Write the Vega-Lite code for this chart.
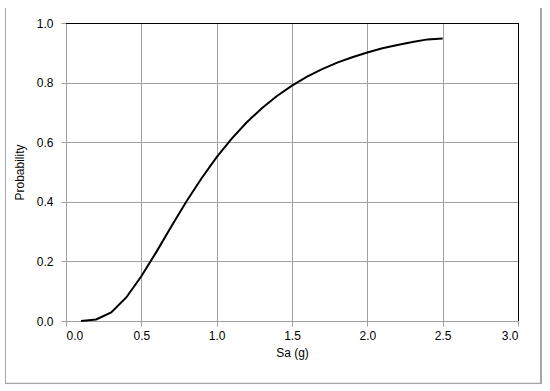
{
  "$schema": "https://vega.github.io/schema/vega-lite/v6.json",
  "width": 452,
  "height": 298,
  "autosize": {"type": "none"},
  "padding": {"left": 66, "top": 23, "right": 32, "bottom": 70},
  "background": "white",
  "config": {
    "view": {"stroke": null},
    "font": "Liberation Sans"
  },
  "data": {
    "values": [
      {"sa": 0.1, "p": 0.0001},
      {"sa": 0.2, "p": 0.005},
      {"sa": 0.3, "p": 0.029},
      {"sa": 0.4, "p": 0.079},
      {"sa": 0.5, "p": 0.150},
      {"sa": 0.6, "p": 0.232},
      {"sa": 0.7, "p": 0.318},
      {"sa": 0.8, "p": 0.402},
      {"sa": 0.9, "p": 0.479},
      {"sa": 1.0, "p": 0.550},
      {"sa": 1.1, "p": 0.612},
      {"sa": 1.2, "p": 0.667},
      {"sa": 1.3, "p": 0.714},
      {"sa": 1.4, "p": 0.755},
      {"sa": 1.5, "p": 0.790},
      {"sa": 1.6, "p": 0.820},
      {"sa": 1.7, "p": 0.845},
      {"sa": 1.8, "p": 0.867},
      {"sa": 1.9, "p": 0.885},
      {"sa": 2.0, "p": 0.901},
      {"sa": 2.1, "p": 0.915},
      {"sa": 2.2, "p": 0.926},
      {"sa": 2.3, "p": 0.936},
      {"sa": 2.4, "p": 0.945},
      {"sa": 2.5, "p": 0.948}
    ]
  },
  "layer": [
    {
      "mark": {"type": "line", "color": "#000000", "strokeWidth": 2, "clip": false},
      "encoding": {
        "x": {
          "field": "sa", "type": "quantitative",
          "scale": {"domain": [0, 3], "nice": false, "zero": false},
          "axis": {
            "title": "Sa (g)", "values": [0, 0.5, 1, 1.5, 2, 2.5, 3],
            "format": ".1f", "labelFontSize": 12, "titleFontSize": 12,
            "labelColor": "#000000", "titleColor": "#000000", "titleFontWeight": "normal",
            "labelFont": "Liberation Sans", "titleFont": "Liberation Sans",
            "domainColor": "#a0a0a0", "tickColor": "#a0a0a0", "tickSize": 5,
            "gridColor": "#a0a0a0", "gridOpacity": 1, "gridWidth": 1,
            "labelPadding": 4, "titlePadding": 6
          }
        },
        "y": {
          "field": "p", "type": "quantitative",
          "scale": {"domain": [0, 1], "nice": false},
          "axis": {
            "title": "Probability", "values": [0, 0.2, 0.4, 0.6, 0.8, 1.0],
            "format": ".1f", "labelFontSize": 12, "titleFontSize": 12,
            "labelColor": "#000000", "titleColor": "#000000", "titleFontWeight": "normal",
            "labelFont": "Liberation Sans", "titleFont": "Liberation Sans",
            "domainColor": "#a0a0a0", "tickColor": "#a0a0a0", "tickSize": 5,
            "gridColor": "#a0a0a0", "gridOpacity": 1, "gridWidth": 1,
            "labelPadding": 8, "titlePadding": 10
          }
        }
      }
    },
    {
      "mark": {"type": "rule", "color": "#000000", "strokeWidth": 1, "clip": false},
      "encoding": {
        "y": {"datum": 0.99832, "type": "quantitative"},
        "x": {"datum": 0, "type": "quantitative"},
        "x2": {"datum": 3}
      }
    },
    {
      "mark": {"type": "rule", "color": "#000000", "strokeWidth": 1, "clip": false},
      "encoding": {
        "x": {"datum": 3.00332, "type": "quantitative"},
        "y": {"datum": 0, "type": "quantitative"},
        "y2": {"datum": 1.0}
      }
    },
    {
      "mark": {"type": "rule", "color": "#a6a6a6", "strokeWidth": 1, "clip": false},
      "encoding": {
        "x": {"datum": -0.4015, "type": "quantitative"},
        "y": {"datum": -0.2097, "type": "quantitative"},
        "y2": {"datum": 1.05}
      }
    },
    {
      "mark": {"type": "rule", "color": "#a6a6a6", "strokeWidth": 1, "clip": false},
      "encoding": {
        "x": {"datum": 3.1535, "type": "quantitative"},
        "y": {"datum": -0.2097, "type": "quantitative"},
        "y2": {"datum": 1.05}
      }
    },
    {
      "mark": {"type": "rule", "color": "#a6a6a6", "strokeWidth": 1, "clip": false},
      "encoding": {
        "y": {"datum": -0.2097, "type": "quantitative"},
        "x": {"datum": -0.4015, "type": "quantitative"},
        "x2": {"datum": 3.1535}
      }
    }
  ]
}
